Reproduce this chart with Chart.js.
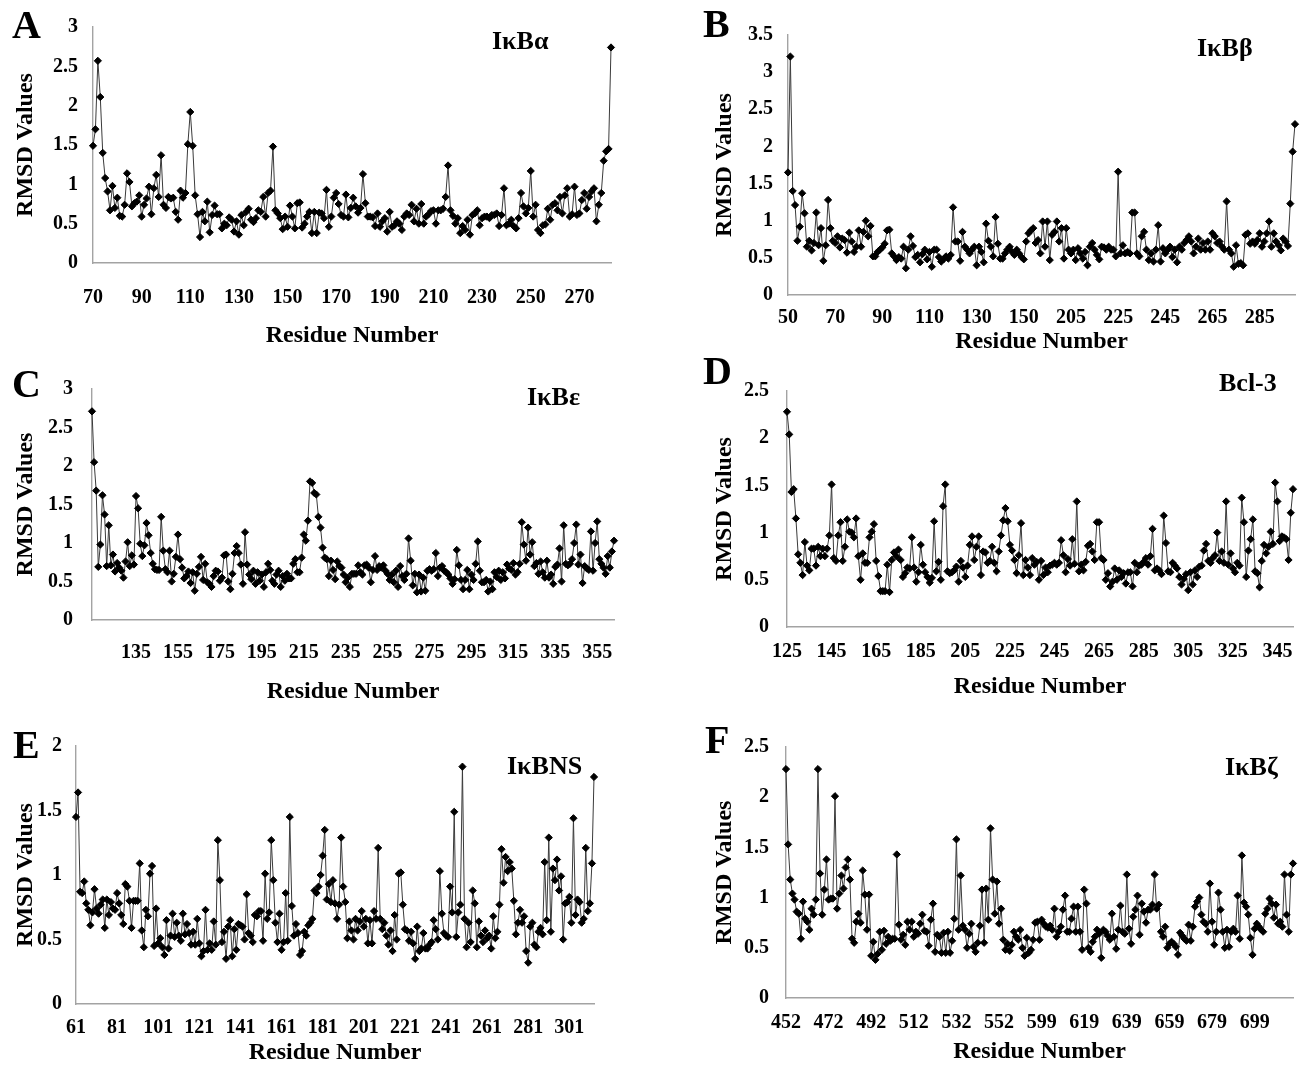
<!DOCTYPE html>
<html><head><meta charset="utf-8">
<script src="https://cdn.jsdelivr.net/npm/chart.js@4.4.0/dist/chart.umd.min.js"></script>
<style>
html,body{margin:0;padding:0;background:#fff;}
body{width:1306px;height:1065px;position:relative;overflow:hidden;font-family:'Liberation Serif','Times New Roman',serif;}
canvas{position:absolute;}
.lbl{position:absolute;font-weight:bold;line-height:1;white-space:nowrap;color:#000;font-family:'Liberation Serif','Times New Roman',serif;}
</style></head><body>
<script>
// ---------- DATA ----------
const A_RANGES = [[70, 283]];
const A_TICKS = [70, 90, 110, 130, 150, 170, 190, 210, 230, 250, 270];
const A_VALUES = [
1.49,1.70,2.57,2.11,1.40,1.08,0.91,0.67,0.98,0.70,
0.83,0.60,0.59,0.74,1.14,1.03,0.72,0.76,0.78,0.86,
0.59,0.74,0.82,0.97,0.62,0.95,1.12,0.84,1.37,0.74,
0.70,0.84,0.82,0.83,0.65,0.55,0.92,0.83,0.89,1.51,
1.92,1.49,0.86,0.62,0.33,0.65,0.53,0.78,0.39,0.61,
0.73,0.62,0.62,0.44,0.50,0.48,0.58,0.55,0.40,0.53,
0.36,0.61,0.48,0.65,0.69,0.55,0.52,0.57,0.67,0.65,
0.84,0.59,0.89,0.92,1.48,0.67,0.63,0.57,0.43,0.59,
0.46,0.73,0.59,0.44,0.76,0.77,0.45,0.50,0.59,0.65,
0.38,0.65,0.38,0.64,0.63,0.57,0.93,0.46,0.59,0.83,
0.89,0.75,0.61,0.59,0.87,0.58,0.70,0.83,0.72,0.64,
0.70,1.13,0.76,0.59,0.59,0.58,0.47,0.63,0.46,0.53,
0.57,0.40,0.65,0.46,0.48,0.53,0.50,0.42,0.59,0.63,
0.61,0.74,0.53,0.69,0.50,0.75,0.50,0.59,0.62,0.66,
0.67,0.50,0.67,0.67,0.69,0.84,1.24,0.67,0.60,0.50,
0.57,0.38,0.47,0.42,0.55,0.36,0.61,0.63,0.67,0.48,
0.57,0.59,0.59,0.57,0.61,0.61,0.63,0.47,0.61,0.95,
0.48,0.50,0.55,0.47,0.44,0.57,0.89,0.72,0.63,0.70,
1.17,0.59,0.74,0.42,0.38,0.48,0.49,0.69,0.55,0.74,
0.76,0.67,0.84,0.63,0.86,0.95,0.59,0.62,0.97,0.61,
0.63,0.80,0.89,0.69,0.84,0.91,0.95,0.53,0.74,0.89,
1.30,1.42,1.45,2.74];

const B_RANGES = [[50, 164], [200, 300]];
const B_TICKS = [50, 70, 90, 110, 130, 150, 205, 225, 245, 265, 285];
const B_VALUES = [
1.65,3.21,1.40,1.21,0.73,0.92,1.37,1.10,0.65,0.73,
0.60,0.70,1.11,0.67,0.90,0.46,0.67,1.28,0.90,0.73,
0.70,0.79,0.64,0.76,0.74,0.57,0.84,0.72,0.58,0.65,
0.87,0.65,0.85,1.00,0.79,0.93,0.52,0.52,0.58,0.61,
0.64,0.69,0.87,0.88,0.56,0.52,0.47,0.51,0.49,0.65,
0.36,0.61,0.79,0.66,0.51,0.54,0.44,0.55,0.61,0.48,
0.58,0.38,0.61,0.61,0.51,0.45,0.48,0.52,0.49,0.54,
1.18,0.72,0.72,0.46,0.85,0.65,0.61,0.56,0.61,0.65,
0.40,0.65,0.58,0.44,0.96,0.73,0.65,0.52,1.05,0.69,
0.49,0.49,0.56,0.61,0.65,0.58,0.54,0.61,0.56,0.51,
0.48,0.72,0.83,0.87,0.90,0.70,0.74,0.56,0.99,0.65,
0.99,0.47,0.81,0.85,0.99,0.72,0.90,0.49,0.90,0.61,
0.56,0.61,0.47,0.63,0.56,0.49,0.58,0.40,0.65,0.70,
0.61,0.54,0.48,0.65,0.64,0.61,0.65,0.61,0.61,0.52,
1.66,0.56,0.67,0.56,0.58,0.56,1.11,1.11,0.56,0.52,
0.79,0.85,0.61,0.47,0.56,0.45,0.61,0.94,0.45,0.63,
0.56,0.61,0.65,0.51,0.61,0.44,0.65,0.61,0.70,0.74,
0.79,0.72,0.56,0.65,0.76,0.61,0.70,0.61,0.72,0.61,
0.83,0.79,0.70,0.72,0.65,0.61,1.26,0.61,0.56,0.38,
0.67,0.42,0.43,0.40,0.81,0.83,0.69,0.72,0.69,0.74,
0.83,0.65,0.72,0.83,0.99,0.65,0.83,0.72,0.67,0.60,
0.76,0.72,0.66,1.23,1.93,2.30];

const C_RANGES = [[114, 363]];
const C_TICKS = [135, 155, 175, 195, 215, 235, 255, 275, 295, 315, 335, 355];
const C_VALUES = [
2.71,2.05,1.68,0.69,0.98,1.62,1.37,0.70,1.23,0.71,
0.85,0.63,0.74,0.68,0.64,0.55,0.76,1.01,0.70,0.84,
0.72,1.61,1.45,0.99,0.83,0.97,1.26,1.10,0.87,0.73,
0.66,0.65,0.65,1.34,0.90,0.66,0.62,0.90,0.50,0.60,
0.82,1.11,0.79,0.68,0.54,0.57,0.63,0.48,0.62,0.38,
0.60,0.69,0.82,0.52,0.73,0.49,0.47,0.43,0.57,0.64,
0.63,0.51,0.55,0.84,0.85,0.50,0.40,0.60,0.87,0.96,
0.87,0.72,0.47,1.14,0.72,0.59,0.53,0.64,0.47,0.62,
0.51,0.59,0.43,0.62,0.73,0.65,0.51,0.47,0.59,0.64,
0.43,0.57,0.51,0.60,0.54,0.54,0.73,0.79,0.62,0.62,
0.81,1.11,1.03,1.29,1.80,1.78,1.65,1.63,1.34,1.20,
0.94,0.81,0.79,0.57,0.77,0.65,0.53,0.76,0.70,0.68,
0.59,0.49,0.55,0.43,0.60,0.60,0.60,0.71,0.62,0.59,
0.71,0.72,0.68,0.49,0.65,0.83,0.65,0.70,0.68,0.71,
0.64,0.60,0.52,0.59,0.49,0.64,0.43,0.70,0.57,0.52,
0.60,1.06,0.77,0.45,0.60,0.36,0.59,0.37,0.55,0.38,
0.64,0.66,0.64,0.66,0.87,0.57,0.68,0.70,0.64,0.62,
0.59,0.54,0.47,0.53,0.91,0.71,0.52,0.40,0.52,0.65,
0.40,0.59,0.52,0.73,1.02,0.64,0.49,0.49,0.52,0.37,
0.50,0.40,0.62,0.56,0.64,0.52,0.62,0.54,0.72,0.67,
0.65,0.74,0.59,0.62,0.73,1.27,0.98,0.77,1.20,0.85,
1.01,0.70,0.74,0.60,0.76,0.62,0.55,0.77,0.55,0.59,
0.47,0.69,0.72,0.93,0.50,1.23,0.73,0.71,0.73,0.79,
1.00,1.24,0.72,0.85,0.48,0.70,0.67,0.65,1.15,0.64,
1.00,1.28,0.79,0.73,0.68,0.60,0.83,0.68,0.89,1.03];

const D_RANGES = [[125, 352]];
const D_TICKS = [125, 145, 165, 185, 205, 225, 245, 265, 285, 305, 325, 345];
const D_VALUES = [
2.28,2.04,1.43,1.46,1.15,0.77,0.68,0.55,0.90,0.65,
0.60,0.83,0.83,0.65,0.85,0.75,0.83,0.75,0.83,0.97,
1.51,0.73,0.70,0.97,1.11,0.70,0.85,1.14,1.01,1.00,
0.95,1.15,0.75,0.50,0.78,0.68,0.68,0.95,1.01,1.09,
0.70,0.54,0.38,0.38,0.38,0.66,0.37,0.71,0.79,0.75,
0.82,0.71,0.53,0.57,0.63,0.62,0.95,0.63,0.48,0.58,
0.87,0.66,0.58,0.53,0.47,0.52,1.12,0.59,0.69,0.50,
1.28,1.51,0.59,0.57,0.58,0.60,0.64,0.48,0.70,0.63,
0.53,0.65,0.87,0.96,0.71,0.85,0.96,0.55,0.80,0.79,
0.68,0.70,0.85,0.68,0.59,0.80,0.97,1.13,1.26,1.12,
0.87,0.81,0.71,0.57,0.76,1.10,0.55,0.71,0.63,0.55,
0.73,0.66,0.69,0.50,0.70,0.55,0.63,0.58,0.65,0.66,
0.68,0.66,0.68,0.92,0.76,0.58,0.72,0.65,0.93,0.67,
1.33,0.59,0.66,0.60,0.69,0.86,0.88,0.80,0.71,1.11,
1.11,0.73,0.71,0.50,0.57,0.43,0.48,0.62,0.50,0.60,
0.53,0.57,0.46,0.58,0.58,0.43,0.68,0.58,0.65,0.66,
0.69,0.73,0.66,0.75,1.04,0.60,0.62,0.60,0.56,1.18,
0.89,0.59,0.58,0.68,0.65,0.62,0.53,0.45,0.51,0.56,
0.39,0.58,0.45,0.60,0.53,0.64,0.65,0.81,0.88,0.70,
0.68,0.73,0.76,1.00,0.70,0.80,0.68,1.33,0.66,0.78,
0.62,0.58,0.68,0.65,1.37,1.11,0.53,0.81,0.93,1.14,
0.59,0.57,0.42,0.70,0.87,0.78,0.85,1.01,0.88,1.53,
1.33,0.91,0.96,0.95,0.93,0.71,1.21,1.46];

const E_RANGES = [[61, 313]];
const E_TICKS = [61, 81, 101, 121, 141, 161, 181, 201, 221, 241, 261, 281, 301];
const E_VALUES = [
1.45,1.64,0.87,0.86,0.95,0.78,0.73,0.61,0.71,0.89,
0.74,0.70,0.77,0.81,0.59,0.81,0.69,0.79,0.74,0.73,
0.86,0.78,0.69,0.62,0.93,0.91,0.80,0.59,0.80,0.80,
0.80,1.09,0.57,0.44,0.73,0.68,1.01,1.07,0.45,0.74,
0.47,0.51,0.44,0.38,0.65,0.43,0.53,0.70,0.52,0.63,
0.53,0.49,0.70,0.54,0.62,0.55,0.46,0.56,0.46,0.66,
0.47,0.37,0.41,0.73,0.42,0.47,0.42,0.64,0.46,1.27,
0.96,0.48,0.56,0.35,0.60,0.65,0.37,0.58,0.42,0.62,
0.61,0.60,0.50,0.85,0.55,0.53,0.48,0.69,0.68,0.72,
0.72,0.49,1.01,0.66,0.71,1.27,0.96,0.63,0.48,0.70,
0.42,0.48,0.86,0.49,1.45,0.76,0.53,0.62,0.55,0.38,
0.41,0.56,0.53,0.61,0.63,0.66,0.88,0.86,0.91,1.00,
1.15,1.35,0.81,0.93,0.79,0.96,0.78,0.66,0.77,1.29,
0.91,0.79,0.51,0.64,0.57,0.50,0.66,0.57,0.64,0.72,
0.60,0.66,0.47,0.65,0.47,0.72,0.66,1.21,0.66,0.58,
0.63,0.53,0.46,0.57,0.41,0.69,0.50,1.01,1.02,0.77,
0.58,0.57,0.49,0.56,0.47,0.35,0.60,0.41,0.43,0.55,
0.43,0.43,0.46,0.48,0.65,0.58,0.50,1.03,0.70,0.55,
0.53,0.52,0.91,0.71,1.49,0.52,0.71,0.77,1.84,0.66,
0.44,0.63,0.48,0.88,0.78,0.44,0.64,0.53,0.48,0.57,
0.51,0.53,0.43,0.68,0.51,0.56,0.77,1.20,0.94,1.14,
1.03,1.10,1.05,0.80,0.54,0.63,0.73,0.63,0.68,0.41,
0.32,0.60,0.63,0.46,0.44,0.56,0.59,0.54,1.10,0.65,
1.29,0.56,1.05,0.96,1.12,0.88,0.99,0.50,0.78,0.79,
0.83,0.63,1.44,0.69,0.81,0.79,0.63,0.66,1.21,0.72,
0.78,1.09,1.76];

const F_RANGES = [[452, 571], [599, 717]];
const F_TICKS = [452, 472, 492, 512, 532, 552, 599, 619, 639, 659, 679, 699];
const F_VALUES = [
2.28,1.53,1.18,1.04,0.98,0.86,0.84,0.59,0.96,0.79,
0.76,0.68,0.89,0.83,0.98,2.28,1.24,0.83,1.08,1.38,
0.98,0.99,0.99,2.01,0.89,1.04,1.22,1.09,1.30,1.38,
1.18,0.59,0.55,0.76,0.84,0.75,1.27,1.03,0.68,1.03,
0.42,0.56,0.38,0.44,0.66,0.48,0.67,0.54,0.61,0.57,
0.59,0.59,1.43,0.73,0.58,0.63,0.53,0.76,0.68,0.76,
0.61,0.66,0.64,0.74,0.83,0.67,0.66,0.52,0.78,0.94,
0.46,0.63,0.61,0.45,0.65,0.45,0.66,0.45,0.57,0.79,
1.58,0.68,1.22,0.72,0.68,0.50,0.64,0.74,0.51,0.46,
0.55,0.72,1.08,0.55,1.09,0.78,1.69,1.18,0.84,1.16,
0.74,0.89,0.58,0.48,0.54,0.47,0.53,0.66,0.61,0.58,
0.68,0.50,0.42,0.60,0.45,0.48,0.58,0.75,0.76,0.58,
0.78,0.74,0.71,0.70,0.72,0.68,0.89,0.61,0.66,0.71,
0.88,1.02,0.66,0.66,0.79,0.91,0.66,0.91,0.66,0.48,
1.08,0.94,0.50,0.46,0.56,0.61,0.68,0.64,0.40,0.68,
0.66,0.62,0.58,0.84,0.61,0.49,0.68,0.92,0.66,0.64,
1.23,0.69,0.54,0.81,0.88,1.02,0.63,0.94,0.86,0.75,
0.88,0.88,0.93,1.23,0.89,0.93,0.66,0.61,0.71,0.50,
0.54,0.56,0.54,0.51,0.43,0.65,0.62,0.59,0.57,0.73,
0.57,0.71,0.91,0.96,1.00,0.83,0.76,0.74,0.66,1.14,
0.76,0.53,0.66,1.05,0.88,0.66,0.50,0.68,0.51,0.66,
0.69,0.66,1.02,0.59,1.42,0.95,0.91,0.83,0.60,0.43,
0.69,0.74,0.71,0.68,0.66,0.84,0.89,0.99,0.94,0.80,
0.93,0.74,0.76,0.71,1.23,0.83,0.66,1.23,1.34];

const PANEL_LETTERS = ['A', 'B', 'C', 'D', 'E', 'F'];
const PANEL_NAMES = ['IκBα', 'IκBβ', 'IκBε', 'Bcl-3', 'IκBNS', 'IκBζ'];
const Y_MAX = [3, 3.5, 3, 2.5, 2, 2.5];
const Y_TITLE = 'RMSD Values';
const X_TITLE = 'Residue Number';

// ---------- LAYOUT / STYLE ----------
const FAMILY = "'Liberation Serif', 'Times New Roman', serif";
const AXIS_COLOR = '#a3a3a3';
const TICK_FONT = {family: FAMILY, size: 20, weight: 'bold'};
const TITLE_FONT = {family: FAMILY, size: 24, weight: 'bold', lineHeight: 1};

const GEOM = [
  {canvas:{x:0,y:0,w:655,h:355},     area:{l:93,t:27,r:611,b:263},   xPad:23, yPad:15, xTitleY:336,  yTitleX:26,  letter:{x:12,b:38},   name:{x:492,b:50}},
  {canvas:{x:700,y:0,w:606,h:361},   area:{l:788,t:35,r:1298,b:295}, xPad:11, yPad:15, xTitleY:342,  yTitleX:725, letter:{x:703,b:37},  name:{x:1197,b:57}},
  {canvas:{x:0,y:358,w:655,h:354},   area:{l:92,t:385,r:614,b:620},  xPad:21, yPad:19, xTitleY:692,  yTitleX:26,  letter:{x:12,b:397},  name:{x:527,b:406}},
  {canvas:{x:700,y:361,w:606,h:351}, area:{l:787,t:375,r:1299,b:627},xPad:13, yPad:18, xTitleY:687,  yTitleX:725, letter:{x:703,b:384}, name:{x:1219,b:392}},
  {canvas:{x:0,y:712,w:655,h:353},   area:{l:76,t:746,r:594,b:1004}, xPad:12, yPad:14, xTitleY:1053, yTitleX:26,  letter:{x:13,b:758},  name:{x:507,b:775}},
  {canvas:{x:700,y:712,w:606,h:353}, area:{l:786,t:747,r:1301,b:998},xPad:13, yPad:17, xTitleY:1052, yTitleX:725, letter:{x:705,b:753}, name:{x:1225,b:776}}
];

const SERIES = [
  {ranges:A_RANGES, values:A_VALUES, ticks:A_TICKS},
  {ranges:B_RANGES, values:B_VALUES, ticks:B_TICKS},
  {ranges:C_RANGES, values:C_VALUES, ticks:C_TICKS},
  {ranges:D_RANGES, values:D_VALUES, ticks:D_TICKS},
  {ranges:E_RANGES, values:E_VALUES, ticks:E_TICKS},
  {ranges:F_RANGES, values:F_VALUES, ticks:F_TICKS}
];

function buildResidues(ranges) {
  const out = [];
  for (const [a, b] of ranges) for (let r = a; r <= b; r++) out.push(String(r));
  return out;
}

function addText(text, x, baseline, size) {
  const d = document.createElement('div');
  d.className = 'lbl';
  d.textContent = text;
  d.style.fontSize = size + 'px';
  d.style.left = x + 'px';
  d.style.top = (baseline - 0.8375 * size) + 'px';
  document.body.appendChild(d);
}

function makePanel(i) {
  const g = GEOM[i], s = SERIES[i];
  const cv = document.createElement('canvas');
  cv.width = g.canvas.w; cv.height = g.canvas.h;
  cv.style.left = g.canvas.x + 'px'; cv.style.top = g.canvas.y + 'px';
  cv.style.width = g.canvas.w + 'px'; cv.style.height = g.canvas.h + 'px';
  document.body.appendChild(cv);

  const labels = buildResidues(s.ranges);
  const tickSet = new Set(s.ticks.map(String));
  const yW = g.area.l - g.canvas.x;
  const xH = g.canvas.y + g.canvas.h - g.area.b;

  new Chart(cv, {
    type: 'line',
    data: {
      labels: labels,
      datasets: [{
        data: s.values,
        borderColor: '#3a3a3a',
        borderWidth: 1,
        tension: 0,
        fill: false,
        pointStyle: 'rectRot',
        pointRadius: 3.6,
        pointBorderWidth: 1,
        pointBackgroundColor: '#000',
        pointBorderColor: '#000'
      }]
    },
    options: {
      responsive: false,
      animation: false,
      devicePixelRatio: 1,
      events: [],
      layout: {
        autoPadding: false,
        padding: {left: 0, top: g.area.t - g.canvas.y, right: g.canvas.x + g.canvas.w - g.area.r, bottom: 0}
      },
      plugins: {legend: {display: false}, tooltip: {enabled: false}, title: {display: false}},
      scales: {
        x: {
          type: 'category',
          offset: false,
          grid: {display: false, drawTicks: false},
          border: {display: true, color: AXIS_COLOR, width: 1.4},
          ticks: {
            autoSkip: false, maxRotation: 0, minRotation: 0,
            padding: g.xPad, color: '#000', font: TICK_FONT,
            callback: function (v) { const l = this.getLabelForValue(v); return tickSet.has(l) ? l : ''; }
          },
          title: {display: true, text: X_TITLE, color: '#000', font: TITLE_FONT,
                  padding: {top: 0, bottom: g.canvas.y + g.canvas.h - g.xTitleY - 12}},
          afterFit: function (sc) { sc.height = xH; }
        },
        y: {
          min: 0, max: Y_MAX[i],
          grid: {display: false, drawTicks: false},
          border: {display: true, color: AXIS_COLOR, width: 1.4},
          ticks: {stepSize: 0.5, padding: g.yPad, color: '#000', font: TICK_FONT,
                  callback: function (v) { return String(Math.round(v * 10) / 10); }},
          title: {display: true, text: Y_TITLE, color: '#000', font: TITLE_FONT,
                  padding: {top: g.yTitleX - g.canvas.x - 12, bottom: 0}},
          afterFit: function (sc) { sc.width = yW; }
        }
      }
    }
  });

  addText(PANEL_LETTERS[i], g.letter.x, g.letter.b, 40);
  addText(PANEL_NAMES[i], g.name.x, g.name.b, 26);
}

for (let i = 0; i < 6; i++) makePanel(i);
</script>
</body></html>
